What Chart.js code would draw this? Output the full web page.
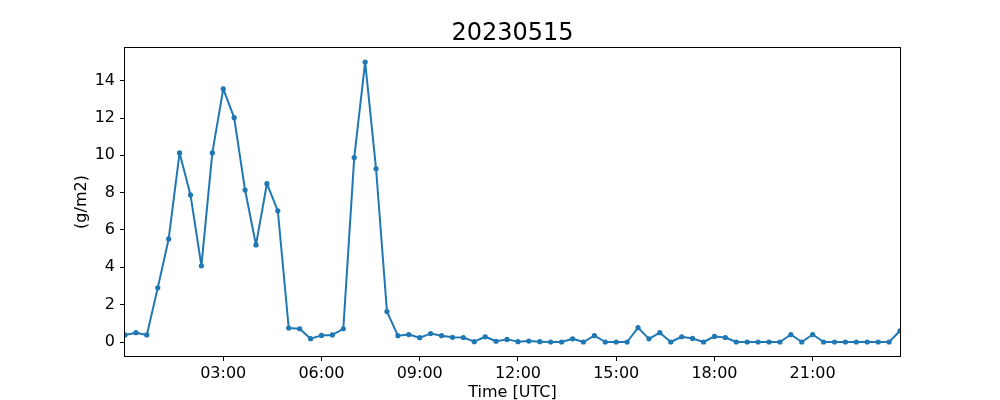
<!DOCTYPE html>
<html>
<head>
<meta charset="utf-8">
<script src="https://cdn.jsdelivr.net/npm/chart.js@4/dist/chart.umd.min.js"></script>
<style>
  html, body { margin: 0; padding: 0; background: #fff; }
  #wrap { width: 1000px; height: 400px; }
</style>
</head>
<body>
<div id="wrap"><canvas id="chart" width="1000" height="400"></canvas></div>
<script>
// sample times (UTC), one every 20 minutes
const timeLabels = [
  '00:00','00:20','00:40','01:00','01:20','01:40','02:00','02:20','02:40',
  '03:00','03:20','03:40','04:00','04:20','04:40','05:00','05:20','05:40',
  '06:00','06:20','06:40','07:00','07:20','07:40','08:00','08:20','08:40',
  '09:00','09:20','09:40','10:00','10:20','10:40','11:00','11:20','11:40',
  '12:00','12:20','12:40','13:00','13:20','13:40','14:00','14:20','14:40',
  '15:00','15:20','15:40','16:00','16:20','16:40','17:00','17:20','17:40',
  '18:00','18:20','18:40','19:00','19:20','19:40','20:00','20:20','20:40',
  '21:00','21:20','21:40','22:00','22:20','22:40','23:00','23:20','23:40'
];

// values in g/m2
const values = [
  0.38, 0.50, 0.38, 2.90, 5.52, 10.13, 7.88, 4.08, 10.13,
  13.56, 12.02, 8.14, 5.20, 8.48, 7.03, 0.75, 0.71, 0.18,
  0.35, 0.38, 0.71, 9.88, 15.00, 9.28, 1.63, 0.34, 0.40,
  0.23, 0.45, 0.34, 0.25, 0.24, 0.02, 0.28, 0.04, 0.14,
  0.02, 0.05, 0.02, 0.00, 0.00, 0.17, 0.00, 0.34, 0.00,
  0.00, 0.00, 0.77, 0.17, 0.50, 0.00, 0.28, 0.19, 0.00,
  0.30, 0.24, 0.00, 0.00, 0.00, 0.00, 0.00, 0.40, 0.00,
  0.40, 0.00, 0.00, 0.00, 0.00, 0.00, 0.00, 0.00, 0.60
];

const xTickLabels = ['03:00', '06:00', '09:00', '12:00', '15:00', '18:00', '21:00'];
const yTicks = [0, 2, 4, 6, 8, 10, 12, 14];

const titleText = '20230515';
const xTitle = 'Time [UTC]';
const yTitle = '(g/m2)';

function toHours(s) {
  const [h, m] = s.split(':').map(Number);
  return h + m / 60;
}

// matplotlib-like 5% margins on y
const vMin = Math.min(...values);
const vMax = Math.max(...values);
const yPad = (vMax - vMin) * 0.05;

const FONT = "'DejaVu Sans', sans-serif";
Chart.defaults.color = '#000';
Chart.defaults.font.family = FONT;
Chart.defaults.font.size = 16;

// title, axis titles and the box round the plot
const framePlugin = {
  id: 'frame',
  afterDraw(chart) {
    const { ctx, chartArea: a } = chart;
    ctx.save();
    ctx.strokeStyle = '#000';
    ctx.lineWidth = 1;
    ctx.strokeRect(a.left - 0.5, a.top - 0.5, a.right - a.left + 1, a.bottom - a.top + 1);

    ctx.fillStyle = '#000';
    ctx.textAlign = 'center';
    ctx.textBaseline = 'alphabetic';
    ctx.font = '24px ' + FONT;
    const cx = (a.left + a.right) / 2;
    ctx.fillText(titleText, cx, a.top - 8);

    ctx.font = '16px ' + FONT;
    ctx.fillText(xTitle, cx, 397);

    ctx.textBaseline = 'middle';
    ctx.translate(82, (a.top + a.bottom) / 2);
    ctx.rotate(-Math.PI / 2);
    ctx.fillText(yTitle, 0, 0);
    ctx.restore();
  }
};

new Chart(document.getElementById('chart'), {
  type: 'line',
  data: {
    datasets: [{
      data: timeLabels.map((t, i) => ({ x: toHours(t), y: values[i] })),
      borderColor: '#1f77b4',
      backgroundColor: '#1f77b4',
      borderWidth: 2,
      borderJoinStyle: 'round',
      borderCapStyle: 'round',
      pointRadius: 2.6,
      pointBorderWidth: 0,
      pointHoverRadius: 2.6,
      tension: 0,
      clip: 0
    }]
  },
  options: {
    responsive: false,
    animation: false,
    devicePixelRatio: 1,
    layout: { padding: { top: 48, right: 100, left: 0, bottom: 0 } },
    plugins: {
      legend: { display: false },
      title: { display: false },
      tooltip: { enabled: false }
    },
    scales: {
      x: {
        type: 'linear',
        min: toHours(timeLabels[0]),
        max: toHours(timeLabels[timeLabels.length - 1]),
        afterBuildTicks(scale) {
          scale.ticks = xTickLabels.map(t => ({ value: toHours(t) }));
        },
        afterFit(scale) { scale.height = 44; },
        ticks: {
          autoSkip: false,
          maxRotation: 0,
          padding: 3,
          callback: (v, i) => xTickLabels[i]
        },
        grid: {
          drawOnChartArea: false,
          drawTicks: true,
          tickLength: 5,
          tickColor: '#000',
          tickWidth: 1
        },
        border: { display: false }
      },
      y: {
        min: vMin - yPad,
        max: vMax + yPad,
        afterBuildTicks(scale) {
          scale.ticks = yTicks.map(v => ({ value: v }));
        },
        afterFit(scale) { scale.width = 125; },
        ticks: {
          autoSkip: false,
          padding: 5,
          callback: v => String(v)
        },
        grid: {
          drawOnChartArea: false,
          drawTicks: true,
          tickLength: 5,
          tickColor: '#000',
          tickWidth: 1
        },
        border: { display: false }
      }
    }
  },
  plugins: [framePlugin]
});
</script>
</body>
</html>
